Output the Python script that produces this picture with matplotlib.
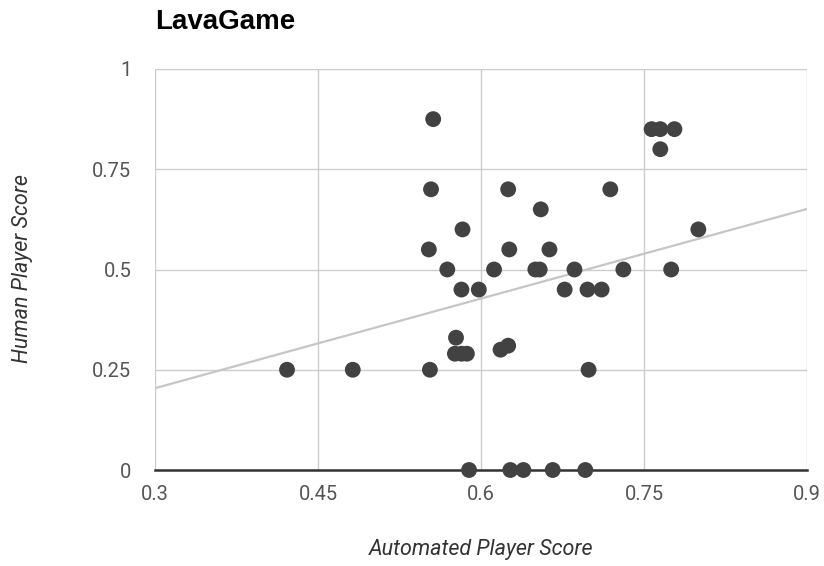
import numpy as np
import matplotlib
matplotlib.use("Agg")
import matplotlib.pyplot as plt

# automated score vs human score
auto_score = [0.4215, 0.482, 0.556, 0.554, 0.552, 0.553, 0.569, 0.583, 0.582, 0.577,
              0.576, 0.582, 0.587, 0.589, 0.598, 0.612, 0.618, 0.625, 0.625, 0.626,
              0.627, 0.639, 0.650, 0.654, 0.655, 0.663, 0.666, 0.677, 0.686, 0.696,
              0.698, 0.699, 0.711, 0.719, 0.731, 0.757, 0.765, 0.778, 0.765, 0.775,
              0.800]
human_score = [0.25, 0.25, 0.875, 0.70, 0.55, 0.25, 0.50, 0.60, 0.45, 0.33,
               0.29, 0.29, 0.29, 0.0, 0.45, 0.50, 0.30, 0.31, 0.70, 0.55,
               0.0, 0.0, 0.50, 0.50, 0.65, 0.55, 0.0, 0.45, 0.50, 0.0,
               0.45, 0.25, 0.45, 0.70, 0.50, 0.85, 0.85, 0.85, 0.80, 0.50,
               0.60]

# linear trendline as drawn in the original (some points overlap, so read it)
trend_slope = 0.745
trend_intercept = -0.0195

x_ticks = [0.3, 0.45, 0.6, 0.75, 0.9]
y_ticks = [0, 0.25, 0.5, 0.75, 1]
x_ticklabels = ["0.3", "0.45", "0.6", "0.75", "0.9"]
y_ticklabels = ["0", "0.25", "0.5", "0.75", "1"]

W, H = 824, 566
fig = plt.figure(figsize=(W / 100, H / 100), dpi=100)
ax = fig.add_axes([155 / W, 1 - 470 / H, 652 / W, 401 / H])

xs = np.array([0.3, 0.9])
ax.plot(xs, trend_slope * xs + trend_intercept, color="#c6c6c6", lw=1.6, zorder=2)

ax.scatter(auto_score, human_score, s=130, color="#424242", edgecolors="none",
           zorder=3, clip_on=False)

ax.set_xlim(0.3, 0.9)
ax.set_ylim(0, 1)
ax.set_xticks(x_ticks)
ax.set_yticks(y_ticks)
ax.set_xticklabels(x_ticklabels)
ax.set_yticklabels(y_ticklabels)
ax.grid(True, color="#cccccc", lw=1, zorder=0)
ax.set_axisbelow(True)
for s in ["top", "right", "left"]:
    ax.spines[s].set_visible(False)
ax.spines["bottom"].set_color("#333333")
ax.spines["bottom"].set_linewidth(1.8)
ax.spines["bottom"].set_zorder(2.5)
ax.tick_params(axis="x", length=0, labelsize=14.5, labelcolor="#555555", pad=11)
ax.tick_params(axis="y", length=0, labelsize=14.5, labelcolor="#555555", pad=17)
for lab in ax.get_xticklabels() + ax.get_yticklabels():
    lab.set_family("Roboto")

fig.text(481 / W, 1 - 550 / H, "Automated Player Score", fontsize=15.5,
         style="italic", color="#333333", family="Roboto", ha="center", va="center")
fig.text(23 / W, 1 - 269 / H, "Human Player Score", fontsize=15.5,
         style="italic", color="#333333", family="Roboto", ha="center", va="center",
         rotation=90)
fig.text(155 / W, 1 - 22 / H, "LavaGame", fontsize=20, fontweight="bold",
         family="Liberation Sans", va="center", ha="left", color="#000000")

fig.savefig("out.png", dpi=100)
